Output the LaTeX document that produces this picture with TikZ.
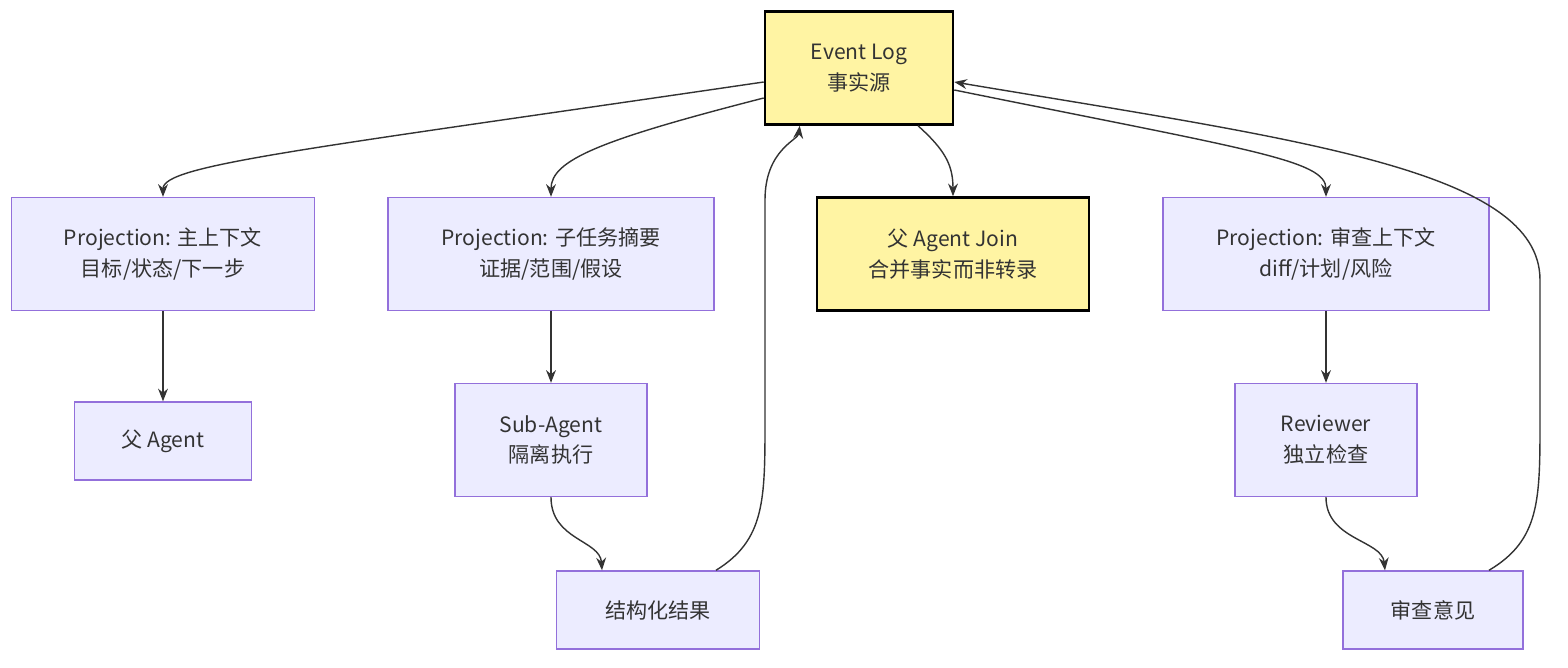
\documentclass[tikz,border=0pt]{standalone}
\usepackage{fontspec}
\setmainfont{Noto Sans CJK SC}
\usetikzlibrary{arrows.meta,positioning,calc}
\definecolor{boxfill}{HTML}{ECECFF}
\definecolor{boxline}{HTML}{9370DB}
\definecolor{keyfill}{HTML}{FFF4A3}
\definecolor{edge}{HTML}{333333}
\tikzset{
  box/.style={draw=boxline, fill=boxfill, line width=1pt, align=center,
    inner sep=0pt, font=\fontsize{15}{22}\selectfont, text=edge},
  key/.style={box, draw=black, fill=keyfill, line width=1.8pt},
  flow/.style={draw=edge, line width=1pt, -{Stealth[length=9pt,width=7pt]}}
}
\begin{document}
\begin{tikzpicture}[x=0.025cm, y=-0.025cm]
  \useasboundingbox (0,0) rectangle (1568,668);
  % top
  \node[key, minimum width=188*0.025cm, minimum height=113*0.025cm] (log) at (859,68) {Event Log\\事实源};
  % projections
  \node[box, minimum width=303*0.025cm, minimum height=113*0.025cm] (main) at (163,254) {Projection: 主上下文\\目标/状态/下一步};
  \node[box, minimum width=326*0.025cm, minimum height=113*0.025cm] (subp) at (551,254) {Projection: 子任务摘要\\证据/范围/假设};
  \node[key, minimum width=272*0.025cm, minimum height=113*0.025cm] (join) at (953,254) {父 Agent Join\\合并事实而非转录};
  \node[box, minimum width=326*0.025cm, minimum height=113*0.025cm] (revp) at (1326,254) {Projection: 审查上下文\\diff/计划/风险};
  % agents
  \node[box, minimum width=177*0.025cm, minimum height=78*0.025cm] (parent) at (163,441) {父 Agent};
  \node[box, minimum width=192*0.025cm, minimum height=113*0.025cm] (sub) at (551,440) {Sub-Agent\\隔离执行};
  \node[box, minimum width=182*0.025cm, minimum height=113*0.025cm] (rev) at (1326,440) {Reviewer\\独立检查};
  % results
  \node[box, minimum width=203*0.025cm, minimum height=78*0.025cm] (res) at (658,610) {结构化结果};
  \node[box, minimum width=180*0.025cm, minimum height=78*0.025cm] (note) at (1433,610) {审查意见};

  % edges
  \draw[flow] ($(log.west)+(0,14)$) .. controls (300,150) and (163,165) .. (main.north);
  \draw[flow] ($(log.west)+(0,30)$) .. controls (600,140) and (551,160) .. (subp.north);
  \draw[flow] ($(log.south)+(59,0)$) .. controls (945,150) and (953,165) .. (join.north);
  \draw[flow] ($(log.east)+(0,22)$) .. controls (1250,150) and (1326,160) .. (revp.north);
  \draw[flow] (main) -- (parent);
  \draw[flow] (subp) -- (sub);
  \draw[flow] (revp) -- (rev);
  \draw[flow] (sub.south) .. controls (551,540) and (600,540) .. ($(res.north)+(-56,0)$);
  \draw[flow] (rev.south) .. controls (1326,540) and (1382,540) .. ($(note.north)+(-48,0)$);
  \draw[flow] ($(res.north)+(58,0)$) .. controls (765,540) and (765,500) .. (765,420)
    -- (765,200) .. controls (765,150) and (798,140) .. ($(log.south west)+(36,0)$);
  \draw[flow] ($(note.north)+(56,0)$) .. controls (1540,540) and (1540,500) .. (1540,420)
    -- (1540,280) .. controls (1540,170) and (1300,140) .. ($(log.east)+(0,14)$);
\end{tikzpicture}
\end{document}
